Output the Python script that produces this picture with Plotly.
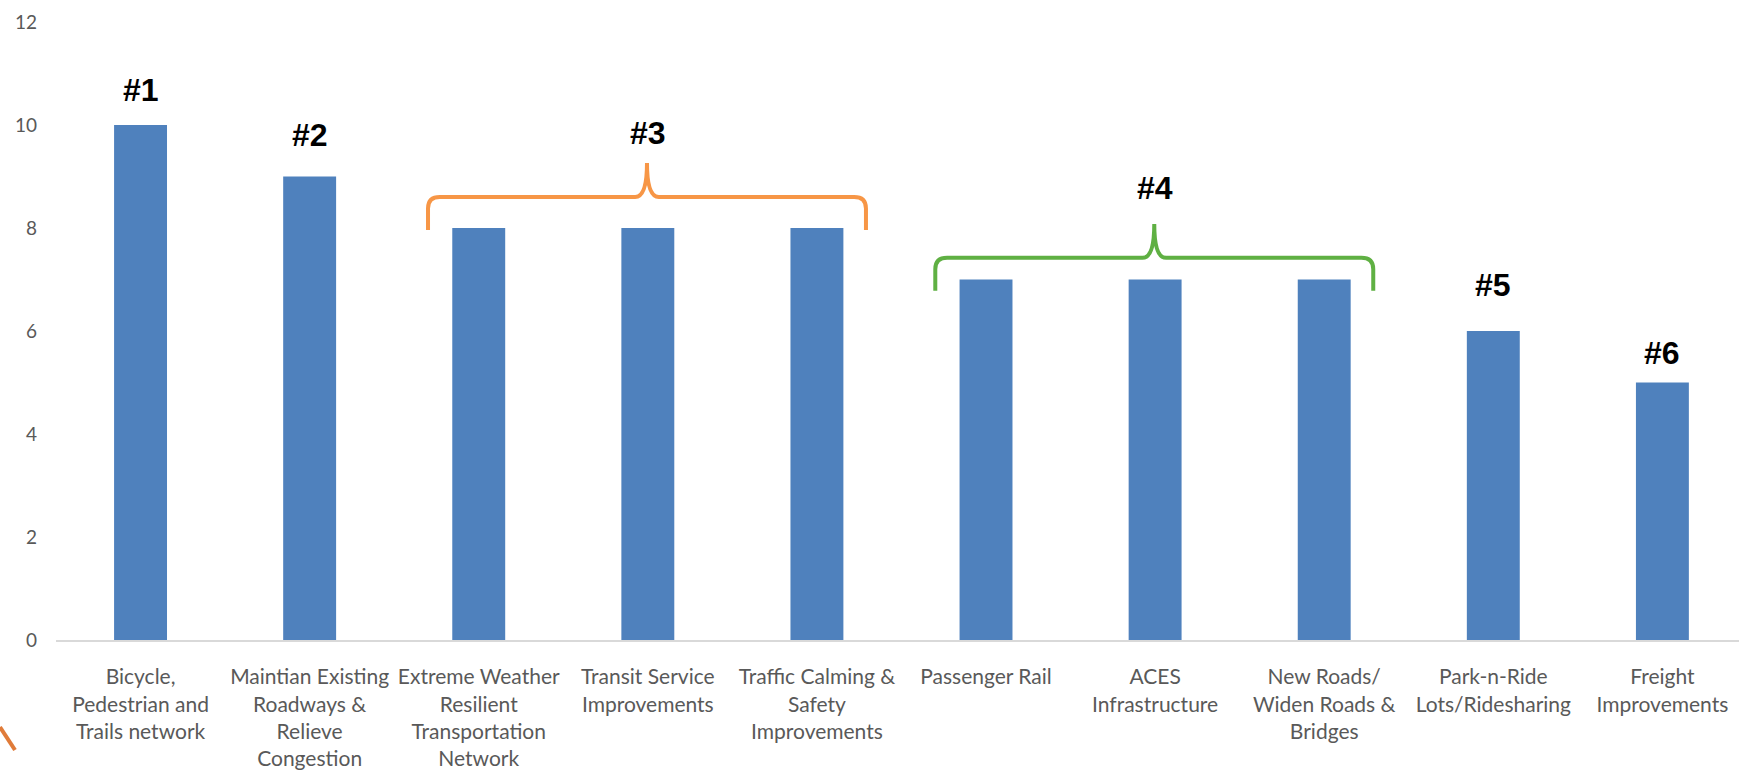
import plotly.graph_objects as go

# Priority scores by investment category
categories = [
    "Bicycle,<br>Pedestrian and<br>Trails network",
    "Maintian Existing<br>Roadways &<br>Relieve<br>Congestion",
    "Extreme Weather<br>Resilient<br>Transportation<br>Network",
    "Transit Service<br>Improvements",
    "Traffic Calming &<br>Safety<br>Improvements",
    "Passenger Rail",
    "ACES<br>Infrastructure",
    "New Roads/<br>Widen Roads &<br>Bridges",
    "Park-n-Ride<br>Lots/Ridesharing",
    "Freight<br>Improvements",
]
scores = [10, 9, 8, 8, 8, 7, 7, 7, 6, 5]

# Rank labels: text, category index it sits over, height
rank_labels = ["#1", "#2", "#3", "#4", "#5", "#6"]
rank_x = [0, 1, 3, 6, 8, 9]
rank_y = [10.68, 9.8, 9.84, 8.78, 6.89, 5.57]

# Braces grouping tied ranks: first/last category index, height of the brace feet, color
brace_first = [2, 5]
brace_last = [4, 7]
brace_bottom = [7.96, 6.78]
brace_colors = ["#f79646", "#5fb043"]

BAR_COLOR = "#4f81bd"
TEXT_GRAY = "#595959"

fig = go.Figure()
fig.add_trace(go.Bar(
    x=list(range(len(categories))),
    y=scores,
    width=0.313,
    marker=dict(color=BAR_COLOR, line=dict(width=0)),
    hoverinfo="skip",
))


def brace_path(first, last, bottom):
    """Curly brace spanning bars first..last, feet resting at `bottom`."""
    x0 = first - 0.30
    x1 = last + 0.29
    xm = (x0 + x1) / 2
    y_end = bottom
    y_bar = bottom + 0.64
    y_tip = bottom + 1.30
    dx = 0.07
    dy = 0.22
    return (
        f"M {x0},{y_end} "
        f"L {x0},{y_bar - dy} "
        f"Q {x0},{y_bar} {x0 + dx},{y_bar} "
        f"L {xm - dx},{y_bar} "
        f"Q {xm},{y_bar} {xm},{y_tip} "
        f"Q {xm},{y_bar} {xm + dx},{y_bar} "
        f"L {x1 - dx},{y_bar} "
        f"Q {x1},{y_bar} {x1},{y_bar - dy} "
        f"L {x1},{y_end}"
    )


for f, l, b, c in zip(brace_first, brace_last, brace_bottom, brace_colors):
    fig.add_shape(
        type="path", xref="x", yref="y",
        path=brace_path(f, l, b),
        line=dict(color=c, width=4),
    )

for t, xi, yi in zip(rank_labels, rank_x, rank_y):
    fig.add_annotation(
        x=xi, y=yi, xref="x", yref="y", text=f"<b>{t}</b>",
        showarrow=False,
        font=dict(family="Liberation Sans, Arial, sans-serif", size=32, color="#000000"),
        xanchor="center", yanchor="middle",
    )

# small logo fragment at the lower-left corner
fig.add_shape(
    type="line", xref="paper", yref="paper",
    x0=-56 / 1683, y0=-87 / 618, x1=-41 / 1683, y1=-110 / 618,
    line=dict(color="#e07b39", width=4),
)

fig.update_layout(
    width=1739,
    height=770,
    margin=dict(l=56, r=0, t=22, b=130),
    paper_bgcolor="#ffffff",
    plot_bgcolor="#ffffff",
    showlegend=False,
    font=dict(family="Lato, Calibri, sans-serif", color=TEXT_GRAY),
    xaxis=dict(
        range=[-0.5, 9.453],
        tickmode="array",
        tickvals=list(range(len(categories))),
        ticktext=categories,
        tickangle=0,
        showgrid=False,
        zeroline=False,
        showline=True,
        linecolor="#d9d9d9",
        linewidth=2,
        ticks="",
        tickfont=dict(size=21, color=TEXT_GRAY),
        ticklabelstandoff=17,
    ),
    yaxis=dict(
        range=[0, 12],
        tickmode="array",
        tickvals=[0, 2, 4, 6, 8, 10, 12],
        showgrid=False,
        zeroline=False,
        showline=False,
        ticks="",
        tickfont=dict(size=19, color=TEXT_GRAY),
        ticklabelstandoff=18,
    ),
)

fig.write_html("out.html")
